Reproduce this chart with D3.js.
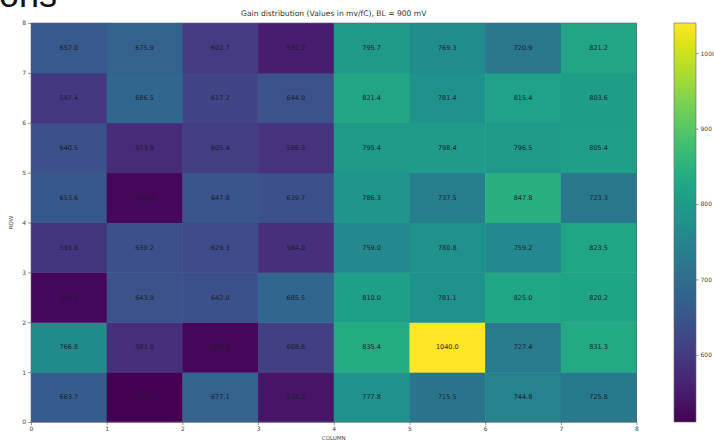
<!DOCTYPE html>
<html>
<head>
<meta charset="utf-8">
<script src="https://cdn.jsdelivr.net/npm/d3@7"></script>
<style>
  html, body { margin: 0; padding: 0; background: #fff; }
  svg { display: block; }
  text { font-family: "DejaVu Sans", sans-serif; }
</style>
</head>
<body>
<svg id="chart" width="714" height="442"></svg>
<script>
// Grid indices
const columns = [0, 1, 2, 3, 4, 5, 6, 7];
const rows = [0, 1, 2, 3, 4, 5, 6, 7];

// Gain per pixel (mV/fC), one array per row, row 0 at the bottom
const row0 = [663.7, 511.0, 677.1, 539.2, 777.8, 715.5, 744.8, 725.8];
const row1 = [766.8, 583.0, 520.6, 608.6, 835.4, 1040.0, 727.4, 831.3];
const row2 = [523.1, 643.9, 642.0, 685.5, 810.0, 781.1, 825.0, 820.2];
const row3 = [593.6, 639.2, 629.3, 584.0, 759.0, 780.8, 759.2, 823.5];
const row4 = [653.6, 519.6, 647.8, 639.7, 786.3, 737.5, 847.8, 723.3];
const row5 = [640.5, 573.9, 605.4, 586.3, 795.4, 798.4, 796.5, 805.4];
const row6 = [597.4, 686.5, 617.2, 644.0, 821.4, 781.4, 815.4, 803.6];
const row7 = [657.0, 675.9, 602.7, 551.2, 795.7, 769.3, 720.9, 821.2];

// Axis and colour bar tick labels
const axisTicks = [0, 1, 2, 3, 4, 5, 6, 7, 8];
const colorbarTicks = [600, 700, 800, 900, 1000];

const titleText = "Gain distribution (Values in mv/fC), BL = 900 mV";

const gainRows = [row0, row1, row2, row3, row4, row5, row6, row7];
const cells = [];
rows.forEach((r, ri) => columns.forEach((c, ci) => {
  cells.push({ row: r, col: c, value: gainRows[ri][ci] });
}));

const svg = d3.select("#chart");

// slide heading partly cut off at the top edge
svg.append("text")
  .attr("x", -1).attr("y", 7)
  .attr("font-family", "Liberation Sans, Arial, sans-serif")
  .style("font-family", "'Liberation Sans', Arial, sans-serif")
  .attr("font-size", 36)
  .attr("fill", "#111")
  .text("ons");

const plot = { left: 31, right: 636.5, top: 23, bottom: 422 };

const x = d3.scaleLinear().domain([0, 8]).range([plot.left, plot.right]);
const y = d3.scaleLinear().domain([0, 8]).range([plot.bottom, plot.top]);

const extent = d3.extent(cells, d => d.value);
const color = d3.scaleSequential(d3.interpolateViridis).domain(extent);

// heatmap cells
svg.append("g").selectAll("rect")
  .data(cells)
  .join("rect")
  .attr("x", d => x(d.col))
  .attr("y", d => y(d.row + 1))
  .attr("width", d => x(d.col + 1) - x(d.col) + 0.5)
  .attr("height", d => y(d.row) - y(d.row + 1) + 0.5)
  .attr("fill", d => color(d.value));

// value labels
svg.append("g").selectAll("text")
  .data(cells)
  .join("text")
  .attr("x", d => x(d.col + 0.5))
  .attr("y", d => y(d.row + 0.5))
  .attr("dy", "0.35em")
  .attr("text-anchor", "middle")
  .attr("font-size", 6.5)
  .attr("fill", "#1c1c2a")
  .text(d => d.value.toFixed(1));

// axes
const xAxis = d3.axisBottom(x).tickValues(axisTicks).tickFormat(d3.format("d")).tickSize(3).tickPadding(2);
const yAxis = d3.axisLeft(y).tickValues(axisTicks).tickFormat(d3.format("d")).tickSize(3).tickPadding(2);

const gx = svg.append("g").attr("transform", `translate(0,${plot.bottom})`).call(xAxis);
const gy = svg.append("g").attr("transform", `translate(${plot.left},0)`).call(yAxis);
[gx, gy].forEach(g => {
  g.select(".domain").remove();
  g.selectAll("line").attr("stroke", "#555").attr("stroke-width", 0.6);
  g.selectAll("text").attr("font-size", 6).attr("fill", "#444").style("font-family", "'DejaVu Sans', sans-serif");
});

// frame around the heatmap
svg.append("rect")
  .attr("x", plot.left).attr("y", plot.top)
  .attr("width", plot.right - plot.left).attr("height", plot.bottom - plot.top)
  .attr("fill", "none").attr("stroke", "#666").attr("stroke-width", 0.6);

// title and axis labels
svg.append("text")
  .attr("x", (plot.left + plot.right) / 2).attr("y", 16)
  .attr("text-anchor", "middle").attr("font-size", 7.6).attr("fill", "#333")
  .text(titleText);

svg.append("text")
  .attr("x", (plot.left + plot.right) / 2).attr("y", 440)
  .attr("text-anchor", "middle").attr("font-size", 5.5).attr("fill", "#444")
  .text("COLUMN");

svg.append("text")
  .attr("transform", `translate(13,${(plot.top + plot.bottom) / 2}) rotate(-90)`)
  .attr("text-anchor", "middle").attr("font-size", 5.5).attr("fill", "#444")
  .text("ROW");

// colour bar
const cb = { left: 674, right: 696, top: 23, bottom: 422 };
const cbScale = d3.scaleLinear().domain(extent).range([cb.bottom, cb.top]);

const defs = svg.append("defs");
const grad = defs.append("linearGradient")
  .attr("id", "viridis-bar")
  .attr("x1", 0).attr("y1", 1).attr("x2", 0).attr("y2", 0);
d3.range(0, 1.0001, 0.05).forEach(t => {
  grad.append("stop").attr("offset", t).attr("stop-color", d3.interpolateViridis(t));
});

svg.append("rect")
  .attr("x", cb.left).attr("y", cb.top)
  .attr("width", cb.right - cb.left).attr("height", cb.bottom - cb.top)
  .attr("fill", "url(#viridis-bar)")
  .attr("stroke", "#666").attr("stroke-width", 0.6);

const cbAxis = d3.axisRight(cbScale).tickValues(colorbarTicks).tickFormat(d3.format("d")).tickSize(2.5).tickPadding(2);
const gcb = svg.append("g").attr("transform", `translate(${cb.right},0)`).call(cbAxis);
gcb.select(".domain").remove();
gcb.selectAll("line").attr("stroke", "#555").attr("stroke-width", 0.6);
gcb.selectAll("text").attr("font-size", 6).attr("fill", "#444").style("font-family", "'DejaVu Sans', sans-serif");
</script>
</body>
</html>
